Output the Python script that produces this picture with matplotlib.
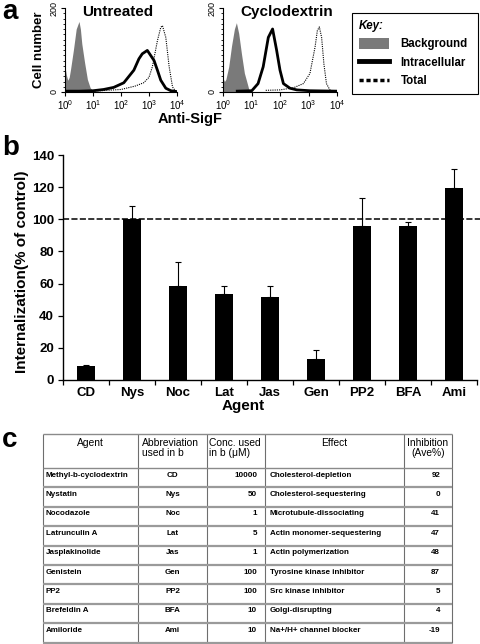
import numpy as np
import matplotlib
matplotlib.use('Agg')
import matplotlib.pyplot as plt
from matplotlib.patches import Patch
from matplotlib.lines import Line2D

plt.rcParams['font.family'] = ['Liberation Sans', 'DejaVu Sans']
plt.rcParams['mathtext.fontset'] = 'custom'
plt.rcParams['mathtext.rm'] = 'Liberation Sans'
plt.rcParams['mathtext.bf'] = 'Liberation Sans:bold'

W, H = 480, 644

# ---- panel a: flow histograms (x in log10 units, y = cell number) ----
untr_bg_x = [0.0, 0.05, 0.1, 0.15, 0.2, 0.3, 0.4, 0.5, 0.55, 0.6, 0.7, 0.8, 0.9, 1.0, 1.1]
untr_bg_y = [60, 40, 28, 35, 55, 100, 150, 168, 150, 115, 70, 30, 10, 3, 0]
untr_in_x = [0.0, 0.5, 1.0, 1.38, 1.74, 2.10, 2.46, 2.64, 2.76, 2.94, 3.06, 3.18, 3.30, 3.42, 3.60, 3.78, 4.0]
untr_in_y = [2, 2, 3, 6, 11, 22, 52, 79, 91, 99, 87, 75, 52, 28, 9, 3, 1]
untr_tot_x = [1.0, 1.5, 2.0, 2.5, 2.81, 3.0, 3.12, 3.30, 3.42, 3.48, 3.60, 3.72, 3.84, 3.96]
untr_tot_y = [2, 4, 6, 14, 22, 35, 60, 122, 154, 158, 130, 60, 12, 1]

cyc_bg_x = [0.0, 0.05, 0.1, 0.2, 0.3, 0.4, 0.47, 0.55, 0.65, 0.75, 0.82, 0.9, 0.95]
cyc_bg_y = [33, 25, 30, 60, 110, 150, 165, 140, 90, 45, 28, 8, 0]
cyc_in_x = [0.5, 1.01, 1.23, 1.41, 1.59, 1.74, 1.88, 2.0, 2.12, 2.35, 2.59, 3.05, 4.0]
cyc_in_y = [2, 3, 20, 60, 130, 150, 100, 52, 20, 9, 5, 3, 2]
cyc_tot_x = [1.5, 2.0, 2.47, 2.82, 3.05, 3.23, 3.31, 3.38, 3.46, 3.54, 3.63, 3.75, 3.9]
cyc_tot_y = [4, 5, 10, 20, 44, 107, 146, 155, 130, 67, 20, 5, 1]

# ---- panel b ----
agents_abbr = ['CD', 'Nys', 'Noc', 'Lat', 'Jas', 'Gen', 'PP2', 'BFA', 'Ami']
internalization = [8.7, 100, 58.7, 53.3, 51.9, 13.1, 95.6, 96.0, 119.3]
err_up = [0.4, 8.5, 15.0, 5.2, 6.7, 5.6, 17.8, 2.0, 11.7]

# ---- panel c ----
agent_names = ['Methyl-b-cyclodextrin', 'Nystatin', 'Nocodazole', 'Latrunculin A',
               'Jasplakinolide', 'Genistein', 'PP2', 'Brefeldin A', 'Amiloride']
conc_um = [10000, 50, 1, 5, 1, 100, 100, 10, 10]
effects = ['Cholesterol-depletion', 'Cholesterol-sequestering', 'Microtubule-dissociating',
           'Actin monomer-sequestering', 'Actin polymerization', 'Tyrosine kinase inhibitor',
           'Src kinase inhibitor', 'Golgi-disrupting', 'Na+/H+ channel blocker']
inhibition = [92, 0, 41, 47, 48, 87, 5, 4, -19]
headers = ['Agent', 'Abbreviation\nused in b', 'Conc. used\nin b (\u03bcM)', 'Effect', 'Inhibition\n(Ave%)']

fig = plt.figure(figsize=(W / 100, H / 100), dpi=100)


def box(l, t, r, b):
    return [l / W, 1 - b / H, (r - l) / W, (b - t) / H]


def hist_panel(rect, bg, intra, tot, title, tx):
    ax = fig.add_axes(rect)
    ax.fill_between(10 ** np.array(bg[0], dtype=float), bg[1], color='#7a7a7a', lw=0)
    ax.plot(10 ** np.array(tot[0], dtype=float), tot[1], color='black', lw=0.8, ls=(0, (1, 1)))
    ax.plot(10 ** np.array(intra[0], dtype=float), intra[1], color='black', lw=2)
    ax.set_xscale('log')
    ax.set_xlim(1, 1e4)
    ax.set_ylim(0, 200)
    ax.set_xticks([1, 10, 100, 1000, 10000])
    ax.set_xticklabels(['$10^0$', '$10^1$', '$10^2$', '$10^3$', '$10^4$'], fontsize=7)
    ax.set_yticks([0, 200])
    ax.set_yticklabels(['0', '200'], rotation=90, va='center', fontsize=6.5)
    ax.set_yticks(np.arange(0, 201, 12.5), minor=True)
    for s in ['top', 'right']:
        ax.spines[s].set_visible(False)
    ax.tick_params(which='major', length=3, width=0.8, pad=1.5)
    ax.tick_params(which='minor', length=1.5, width=0.6)
    ax.text(tx, 0.95, title, transform=ax.transAxes, ha='center', va='center',
            fontsize=11, fontweight='bold')
    return ax


ax1 = hist_panel(box(65, 8, 177, 92), (untr_bg_x, untr_bg_y), (untr_in_x, untr_in_y),
                 (untr_tot_x, untr_tot_y), 'Untreated', 0.47)
ax1.set_ylabel('Cell number', fontsize=9.5, fontweight='bold')
ax1.yaxis.set_label_coords(-0.18, 0.5)
ax2 = hist_panel(box(223, 8, 337, 92), (cyc_bg_x, cyc_bg_y), (cyc_in_x, cyc_in_y),
                 (cyc_tot_x, cyc_tot_y), 'Cyclodextrin', 0.56)
fig.text(190 / W, 1 - 119 / H, 'Anti-SigF', ha='center', va='center',
         fontsize=10.5, fontweight='bold')

handles = [Patch(facecolor='#7a7a7a', edgecolor='none'),
           Line2D([], [], color='black', lw=3.5),
           Line2D([], [], color='black', lw=2.5, ls=(0, (1.2, 0.8)))]
leg = fig.legend(handles, ['Background', 'Intracellular', 'Total'],
                 loc='upper left', bbox_to_anchor=box(352, 13, 478, 89), mode='expand',
                 prop={'weight': 'bold', 'size': 8.3}, title='Key:',
                 title_fontproperties={'weight': 'bold', 'style': 'italic', 'size': 8.3},
                 alignment='left', fancybox=False, edgecolor='black', framealpha=1,
                 handlelength=2.6, handleheight=1.0, labelspacing=0.55,
                 borderpad=0.6, handletextpad=1.0, borderaxespad=0)
leg.get_frame().set_linewidth(0.8)

# ---- panel b ----
axb = fig.add_axes(box(63, 155, 477, 380))
xs = np.arange(len(agents_abbr))
axb.bar(xs, internalization, width=0.41, color='black',
        yerr=[np.zeros(len(err_up)), err_up], capsize=2.4,
        error_kw={'elinewidth': 0.8, 'capthick': 0.8, 'ecolor': 'black'})
axb.axhline(100, xmin=0, xmax=1.01, color='black', lw=1.1, ls=(0, (4, 1.5)),
            clip_on=False, zorder=0.5)
axb.set_xlim(-0.5, len(agents_abbr) - 0.5)
axb.set_ylim(0, 140)
axb.set_yticks(range(0, 141, 20))
axb.set_xticks(xs)
axb.set_xticklabels(agents_abbr)
axb.set_xticks(np.arange(-0.5, len(agents_abbr)), minor=True)
for lab in axb.get_xticklabels() + axb.get_yticklabels():
    lab.set_fontweight('bold')
    lab.set_fontsize(9.5)
axb.tick_params(axis='x', which='major', length=0, pad=5)
axb.tick_params(axis='x', which='minor', length=3.5, width=0.9)
axb.tick_params(axis='y', length=3.5, width=0.9, pad=3)
for s in ['top', 'right']:
    axb.spines[s].set_visible(False)
for s in ['left', 'bottom']:
    axb.spines[s].set_linewidth(1.0)
axb.set_ylabel('Internalization(% of control)', fontsize=11, fontweight='bold')
axb.yaxis.set_label_coords(-0.082, 0.48)
axb.set_xlabel('Agent', fontsize=11, fontweight='bold')
axb.xaxis.set_label_coords(0.435, -0.085)

# ---- panel c: table drawn in pixel coordinates ----
axt = fig.add_axes([0, 0, 1, 1])
axt.set_xlim(0, W)
axt.set_ylim(H, 0)
axt.axis('off')
cols = [43, 138, 207, 265, 404, 452]
top, head_bot, row_h = 434, 468, 19.4
n = len(agent_names)
bottom = head_bot + n * row_h
axt.vlines(cols, top, bottom, color='#6e6e6e', lw=0.8)
axt.hlines([top, head_bot], cols[0], cols[-1], color='#8a8a8a', lw=1.0)
axt.hlines([head_bot + (i + 1) * row_h for i in range(n)], cols[0], cols[-1],
           color='#9a9a9a', lw=1.6)

hfs = 7.4
axt.text((cols[0] + cols[1]) / 2, top + 4, headers[0], ha='center', va='top', fontsize=hfs)
axt.text(cols[1] + 4, top + 4, headers[1], ha='left', va='top', fontsize=hfs, linespacing=1.05)
axt.text(cols[2] + 2, top + 4, headers[2], ha='left', va='top', fontsize=hfs, linespacing=1.05)
axt.text((cols[3] + cols[4]) / 2, top + 4, headers[3], ha='center', va='top', fontsize=hfs)
axt.text((cols[4] + cols[5]) / 2, top + 4, headers[4], ha='center', va='top', fontsize=hfs,
         linespacing=1.05)

bfs = 5.8
for i in range(n):
    y = head_bot + i * row_h + 7
    kw = dict(va='center', fontsize=bfs, fontweight='bold')
    axt.text(cols[0] + 3, y, agent_names[i], ha='left', **kw)
    axt.text((cols[1] + cols[2]) / 2, y, agents_abbr[i], ha='center', **kw)
    axt.text(cols[3] - 8, y, str(conc_um[i]), ha='right', **kw)
    axt.text(cols[3] + 5, y, effects[i], ha='left', **kw)
    axt.text(cols[5] - 12, y, str(inhibition[i]), ha='right', **kw)

# panel letters
for letter, x, y in [('a', 2, 12), ('b', 2, 148), ('c', 2, 440)]:
    fig.text(x / W, 1 - y / H, letter, ha='left', va='center', fontsize=20, fontweight='bold')

fig.savefig('out.png', dpi=100)
